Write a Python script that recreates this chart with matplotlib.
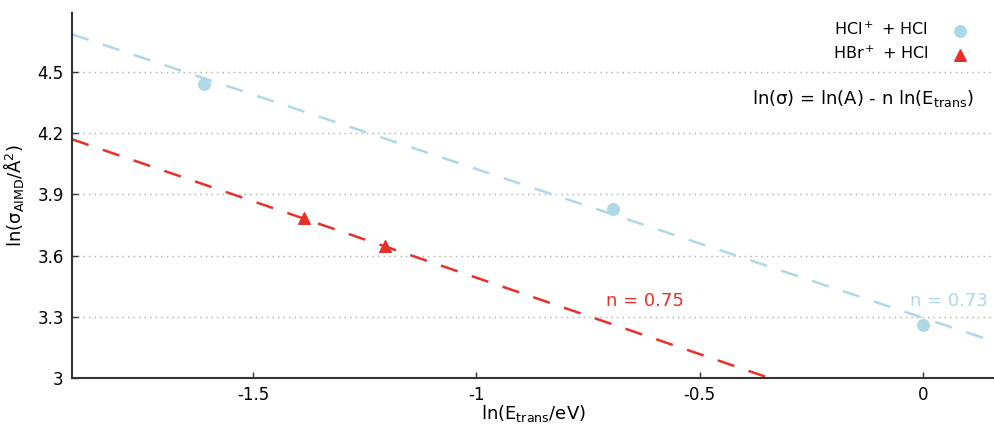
import numpy as np
import matplotlib
matplotlib.use("Agg")
import matplotlib.pyplot as plt

plt.rcParams['font.family'] = ['DejaVu Sans']
plt.rcParams['mathtext.default'] = 'regular'
plt.rcParams['axes.unicode_minus'] = False

# data
hcl_x = [-1.609, -0.693, 0.0]
hcl_y = [4.44, 3.83, 3.26]
hbr_x = [-1.386, -1.204]
hbr_y = [3.785, 3.645]
# fit parameters ln(sigma) = lnA - n ln(E)
hcl_lnA, hcl_n = 3.295, 0.73
hbr_lnA, hbr_n = 2.742, 0.75

xlim = (-1.905, 0.161)
ylim = (3.0, 4.79)
xticks = [-1.5, -1.0, -0.5, 0.0]
xticklabels = ['-1.5', '-1', '-0.5', '0']
yticks = [3.0, 3.3, 3.6, 3.9, 4.2, 4.5]
yticklabels = ['3', '3.3', '3.6', '3.9', '4.2', '4.5']

c_blue = '#add8e6'
c_red = '#e8302a'

fig = plt.figure(figsize=(9.95, 4.28), dpi=100)
ax = fig.add_axes([0.0724, 0.1168, 0.9276, 0.8528])

xx = np.linspace(xlim[0], xlim[1], 200)
ax.plot(xx, hcl_lnA - hcl_n * xx, color=c_blue, lw=1.8, dashes=(7, 6), zorder=2)
ax.plot(xx, hbr_lnA - hbr_n * xx, color=c_red, lw=1.8, dashes=(7, 6), zorder=2)

ax.scatter(hcl_x, hcl_y, s=70, color=c_blue, marker='o', label='HCl$^+$ + HCl', zorder=3, clip_on=False)
ax.scatter(hbr_x, hbr_y, s=70, color=c_red, marker='^', label='HBr$^+$ + HCl', zorder=3)

ax.set_xlim(*xlim)
ax.set_ylim(*ylim)
ax.set_xticks(xticks)
ax.set_xticklabels(xticklabels)
ax.set_yticks(yticks)
ax.set_yticklabels(yticklabels)
ax.tick_params(axis='both', direction='in', length=4, width=1, labelsize=12, colors='#333333')
ax.tick_params(axis='x', pad=6)
ax.tick_params(axis='y', pad=6)
for lab in ax.get_xticklabels() + ax.get_yticklabels():
    lab.set_color('black')

ax.yaxis.grid(True, linestyle=(0, (1, 3)), color='#aaaaaa', lw=1)
ax.set_axisbelow(True)
for s in ['top', 'right']:
    ax.spines[s].set_visible(False)
for s in ['left', 'bottom']:
    ax.spines[s].set_linewidth(1.5)
    ax.spines[s].set_color('#333333')

ax.set_xlabel('ln(E$_{trans}$/eV)', fontsize=13, labelpad=-1)
ax.set_ylabel('ln($\\sigma_{AIMD}$/Å$^2$)', fontsize=13, labelpad=8)

ax.legend(loc='upper right', frameon=False, markerfirst=False, fontsize=11.5,
          handletextpad=1.0, borderaxespad=0.2, labelspacing=0.4,
          bbox_to_anchor=(0.99, 1.005))

ax.text(0.977, 0.765, 'ln(σ) = ln(A) - n ln(E$_{trans}$)', transform=ax.transAxes,
        ha='right', va='center', fontsize=13)
ax.text(-0.71, 3.38, 'n = 0.75', color=c_red, fontsize=13, ha='left', va='center')
ax.text(-0.03, 3.38, 'n = 0.73', color=c_blue, fontsize=13, ha='left', va='center')

fig.savefig('out.png', dpi=100)
